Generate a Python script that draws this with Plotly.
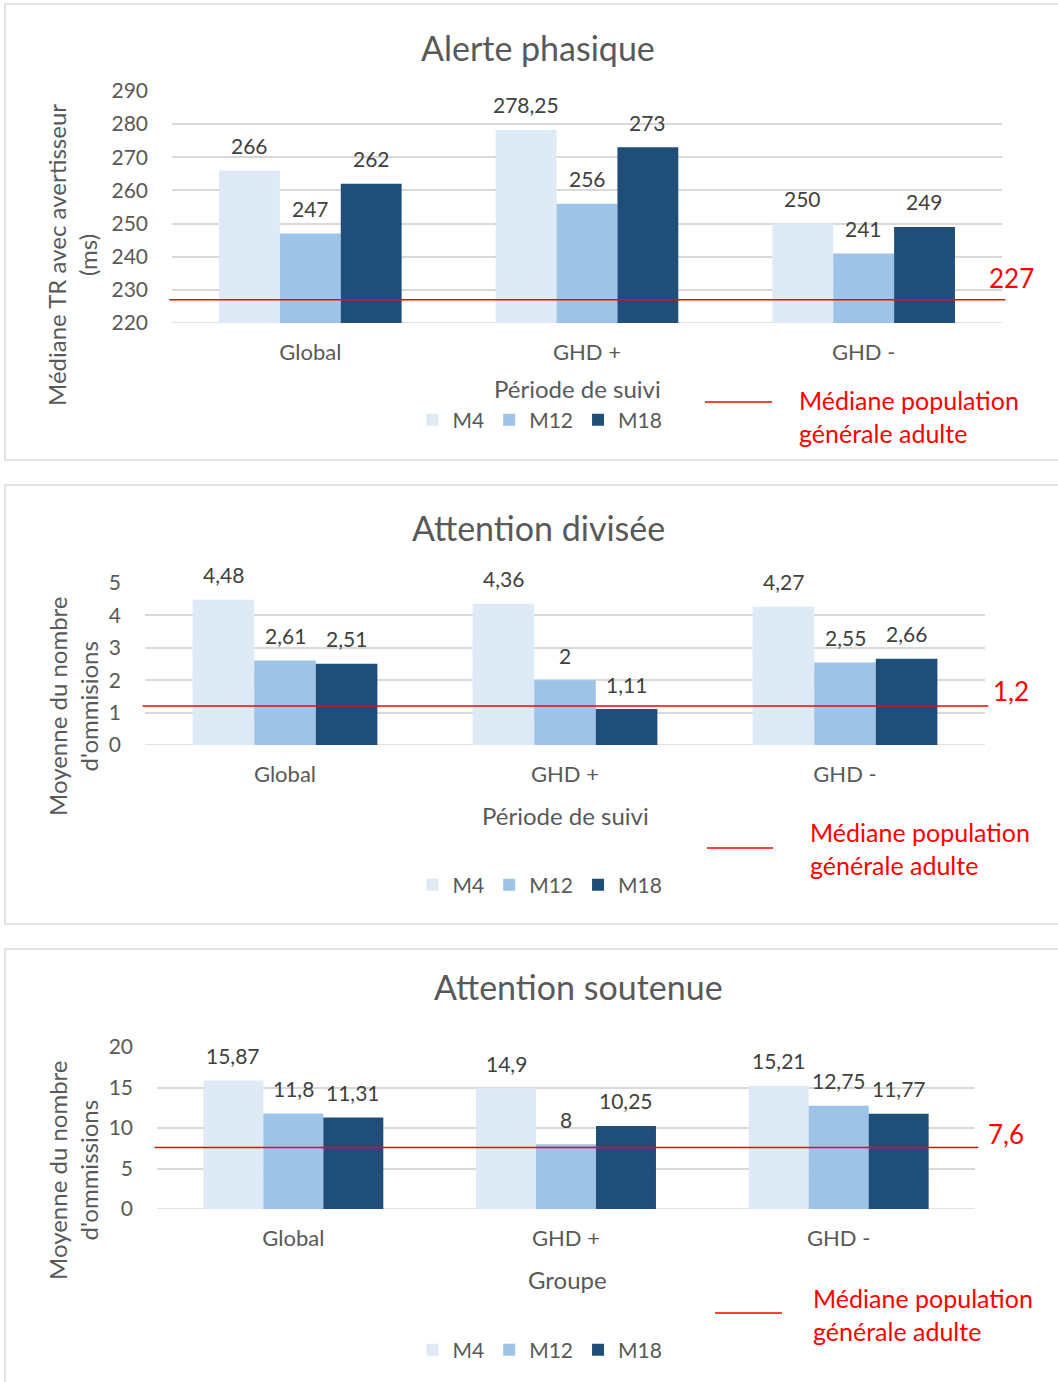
import plotly.graph_objects as go

# ---- data ----
groups = ["Global", "GHD +", "GHD -"]
periods = ["M4", "M12", "M18"]

alerte_m4 = [266, 278.25, 250]
alerte_m12 = [247, 256, 241]
alerte_m18 = [262, 273, 249]
alerte_median = 227

divisee_m4 = [4.48, 4.36, 4.27]
divisee_m12 = [2.61, 2, 2.55]
divisee_m18 = [2.51, 1.11, 2.66]
divisee_median = 1.2

soutenue_m4 = [15.87, 14.9, 15.21]
soutenue_m12 = [11.8, 8, 12.75]
soutenue_m18 = [11.31, 10.25, 11.77]
soutenue_median = 7.6

y_ticks_alerte = [220, 230, 240, 250, 260, 270, 280, 290]
y_ticks_divisee = [0, 1, 2, 3, 4, 5]
y_ticks_soutenue = [0, 5, 10, 15, 20]

# ---- styling ----
W, H = 1058, 1382
FONT = "Lato"
GREY = "#595959"
LABEL = "#404040"
GRID = "#d9d9d9"
RED = "#ff0000"
COLORS = ["#deebf7", "#9dc3e6", "#1f4e79"]
BARGAP = 0.34


def px_x(x):
    return x / W


def px_y(y):
    return 1 - y / H


def fmt(v):
    return f"{v:g}".replace(".", ",")


panels = [
    dict(title="Alerte phasique", series=[alerte_m4, alerte_m12, alerte_m18],
         median=alerte_median, ticks=y_ticks_alerte, rng=[220, 290],
         ytitle="Médiane TR avec avertisseur<br>(ms)", xtitle="Période de suivi",
         plot=(172, 1002, 91, 323), title_pos=(538, 48), ytitle_pos=(72, 255),
         xtitle_pos=(577, 389), legend_pos=(540, 420),
         med_leg=(705, 772, 402, 797, 417), med_lab=(1011, 22), box=(5, 4, 460)),
    dict(title="Attention divisée", series=[divisee_m4, divisee_m12, divisee_m18],
         median=divisee_median, ticks=y_ticks_divisee, rng=[0, 5],
         ytitle="Moyenne du nombre<br>d'ommisions", xtitle="Période de suivi",
         plot=(145, 985, 583, 745), title_pos=(538, 528), ytitle_pos=(73, 706),
         xtitle_pos=(565, 815), legend_pos=(540, 885),
         med_leg=(707, 773, 848, 808, 849), med_lab=(1011, 15), box=(5, 485, 924)),
    dict(title="Attention soutenue", series=[soutenue_m4, soutenue_m12, soutenue_m18],
         median=soutenue_median, ticks=y_ticks_soutenue, rng=[0, 20],
         ytitle="Moyenne du nombre<br>d'ommissions", xtitle="Groupe",
         plot=(157, 975, 1047, 1209), title_pos=(578, 986), ytitle_pos=(73, 1170),
         xtitle_pos=(567, 1279), legend_pos=(540, 1350),
         med_leg=(715, 782, 1313, 811, 1314), med_lab=(1006, 13), box=(5, 949, 1400)),
]

fig = go.Figure()
layout = dict(
    width=W, height=H, margin=dict(l=0, r=0, t=0, b=0, pad=0, autoexpand=False),
    paper_bgcolor="white", plot_bgcolor="white",
    font=dict(family=FONT, color=GREY, size=21),
    barmode="group", bargap=BARGAP, bargroupgap=0,
    shapes=[], annotations=[],
)

bar_w = (1 - BARGAP) / 3

for k, p in enumerate(panels):
    n = "" if k == 0 else str(k + 1)
    xa, ya = "x" + n, "y" + n
    leg = "legend" + n
    x0, x1, y0, y1 = p["plot"]

    for j, (name, vals) in enumerate(zip(periods, p["series"])):
        fig.add_trace(go.Bar(
            x=groups, y=vals, name=name, marker=dict(color=COLORS[j], line=dict(width=0)),
            xaxis=xa, yaxis=ya, legend=leg, showlegend=True, hoverinfo="skip",
        ))
        for i, v in enumerate(vals):
            layout["annotations"].append(dict(
                x=i + (j - 1) * bar_w, y=v, xref=xa, yref=ya, text=fmt(v),
                showarrow=False, yanchor="middle", yshift=25,
                font=dict(family=FONT, size=21, color=LABEL),
            ))

    layout["xaxis" + n] = dict(
        domain=[px_x(x0), px_x(x1)], anchor=ya, range=[-0.5, 2.5], automargin=False,
        showgrid=False, showline=False, zeroline=False, ticks="",
        ticklabelstandoff=14, tickfont=dict(size=22, color=GREY),
    )
    layout["yaxis" + n] = dict(
        domain=[px_y(y1), px_y(y0)], anchor=xa, range=p["rng"], automargin=False,
        tickvals=p["ticks"], showgrid=True, gridcolor=GRID, gridwidth=1.6,
        zeroline=False, showline=False, ticks="", ticklabelstandoff=23,
        tickfont=dict(size=21, color=GREY),
    )
    layout[leg] = dict(
        orientation="h", x=px_x(p["legend_pos"][0]), y=px_y(p["legend_pos"][1]),
        xanchor="center", yanchor="middle", font=dict(size=21, color=GREY),
        bgcolor="rgba(0,0,0,0)", itemclick=False, itemdoubleclick=False,
        tracegroupgap=0,
    )

    # bottom axis line drawn as a gridline at the range floor
    layout["shapes"].append(dict(
        type="line", xref=xa + " domain", yref=ya, x0=0, x1=1,
        y0=p["rng"][0], y1=p["rng"][0], line=dict(color=GRID, width=1.6), layer="below",
    ))
    # median of the adult general population
    layout["shapes"].append(dict(
        type="line", xref=xa + " domain", yref=ya, x0=-0.003, x1=1.004,
        y0=p["median"], y1=p["median"], line=dict(color=RED, width=1.5), layer="above",
    ))
    layout["annotations"].append(dict(
        x=px_x(p["med_lab"][0]), y=p["median"], xref="paper", yref=ya,
        text=fmt(p["median"]), showarrow=False, xanchor="center", yanchor="middle",
        yshift=p["med_lab"][1], font=dict(family=FONT, size=26, color=RED),
    ))
    lx0, lx1, ly, tx, ty = p["med_leg"]
    layout["shapes"].append(dict(
        type="line", xref="paper", yref="paper", x0=px_x(lx0), x1=px_x(lx1),
        y0=px_y(ly), y1=px_y(ly), line=dict(color=RED, width=1.5),
    ))
    layout["annotations"].append(dict(
        x=px_x(tx), y=px_y(ty), xref="paper", yref="paper",
        text="Médiane population<br>générale adulte", showarrow=False,
        xanchor="left", yanchor="middle", align="left",
        font=dict(family=FONT, size=25, color=RED),
    ))

    # chart titles and axis titles
    layout["annotations"].append(dict(
        x=px_x(p["title_pos"][0]), y=px_y(p["title_pos"][1]), xref="paper", yref="paper",
        text=p["title"], showarrow=False, xanchor="center", yanchor="middle",
        font=dict(family=FONT, size=34, color=GREY),
    ))
    layout["annotations"].append(dict(
        x=px_x(p["xtitle_pos"][0]), y=px_y(p["xtitle_pos"][1]), xref="paper", yref="paper",
        text=p["xtitle"], showarrow=False, xanchor="center", yanchor="middle",
        font=dict(family=FONT, size=24, color=GREY),
    ))
    layout["annotations"].append(dict(
        x=px_x(p["ytitle_pos"][0]), y=px_y(p["ytitle_pos"][1]), xref="paper", yref="paper",
        text=p["ytitle"], showarrow=False, textangle=-90, xanchor="center",
        yanchor="middle", align="center",
        font=dict(family=FONT, size=24, color=GREY),
    ))

    # panel frame
    bx, by0, by1 = p["box"]
    layout["shapes"].append(dict(
        type="rect", xref="paper", yref="paper", x0=px_x(bx), x1=px_x(W + 10),
        y0=px_y(by1), y1=px_y(by0), line=dict(color=GRID, width=1.5),
        fillcolor="rgba(0,0,0,0)", layer="below",
    ))

fig.update_layout(**layout)
fig.write_html("out.html")
